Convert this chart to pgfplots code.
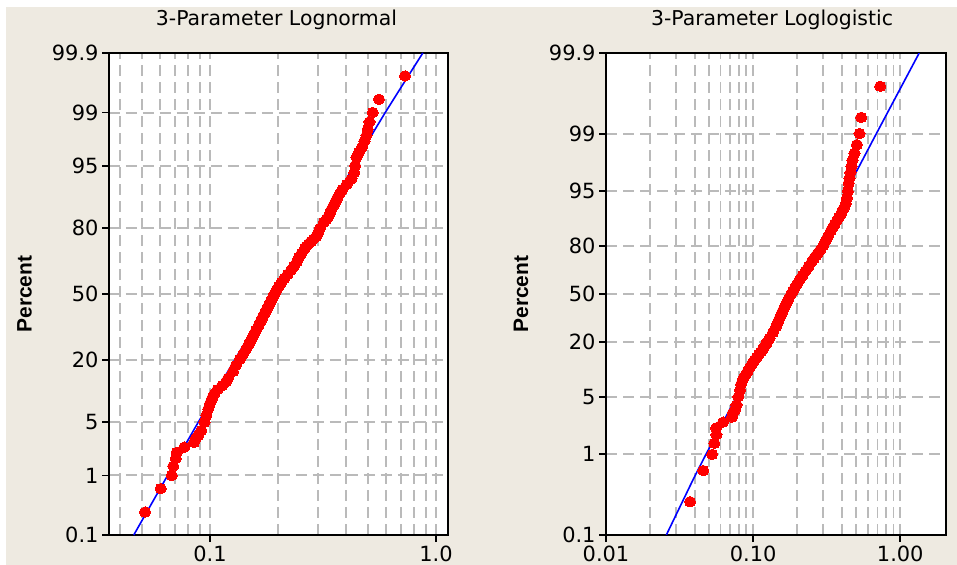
\documentclass[border=0pt]{standalone}
\usepackage{pgfplots}
\usepackage{pgfplotstable}
\pgfplotsset{compat=1.18}
\usepackage{fontspec}
\setmainfont{DejaVu Sans}
\newfontfamily\lblfont{Liberation Sans}
\definecolor{panelbg}{RGB}{238,234,225}
\definecolor{gridgray}{RGB}{186,186,186}

% normal quantile (percent -> z), Abramowitz & Stegun 26.2.23
\pgfmathdeclarefunction{probit}{1}{%
  \begingroup
    \pgfmathparse{min(#1,100-#1)/100}\let\pq\pgfmathresult
    \pgfmathparse{sqrt(-2*ln(\pq))}\let\pt\pgfmathresult
    \pgfmathparse{(2*(#1>=50)-1)*(\pt-(2.515517+0.802853*\pt+0.010328*\pt*\pt)/(1+1.432788*\pt+0.189269*\pt*\pt+0.001308*\pt*\pt*\pt))}%
    \pgfmathsmuggle\pgfmathresult
  \endgroup}
% logistic quantile (percent -> logit)
\pgfmathdeclarefunction{logitp}{1}{%
  \pgfmathparse{ln((#1)/(100-(#1)))}}

% 3-parameter lognormal: data points (x, percent)
\pgfplotstableread{
x p
0.0516 0.259
0.0605 0.629
0.0677 0.998
0.0688 1.368
0.0705 1.738
0.0712 2.108
0.0770 2.478
0.0850 2.848
0.0867 3.218
0.0887 3.5
0.0915 4
0.0945 5
0.0963 6
0.0982 7
0.1000 8
0.1021 9
0.1045 10
0.1079 11
0.1133 12
0.1177 13
0.1203 14
0.1265 16
0.1303 18
0.1354 20
0.1401 22
0.1446 24
0.1487 26
0.1526 28
0.1561 30
0.1597 32
0.1637 34
0.1672 36
0.1706 38
0.1743 40
0.1779 42
0.1816 44
0.1853 46
0.1891 48
0.1928 50
0.1968 52
0.2017 54
0.2073 56
0.2133 58
0.2206 60
0.2284 62
0.2352 64
0.2424 66
0.2471 68
0.2544 70
0.2629 72
0.2667 73
0.2731 74
0.2802 75
0.2876 76
0.2953 77
0.2993 78
0.3029 79
0.3067 80
0.3186 82
0.3271 83
0.3345 84
0.3396 85
0.3445 86
0.3512 87
0.3581 88
0.3654 89
0.3745 90
0.3850 91
0.4027 92
0.4224 93
0.4346 94
0.4385 95
0.4448 96
0.4553 96.5
0.4705 97
0.4822 97.5
0.4926 97.892
0.4986 98.262
0.5079 98.632
0.5247 99.002
0.5594 99.371
0.7293 99.741
}\lnpts

% 3-parameter lognormal: fitted line
\pgfplotstableread{
x p
0.04598 0.1
0.0580 0.5
0.0649 1
0.0887 5
0.1049 10
0.1288 20
0.1922 50
0.2370 65
0.2960 80
0.3660 90
0.4350 95
0.5000 97.5
0.5962 99
0.6753 99.5
0.7858 99.8
0.8744 99.9
}\lnfit

% 3-parameter loglogistic: data points (x, percent)
\pgfplotstableread{
x p
0.0373 0.259
0.0459 0.629
0.0526 0.998
0.0545 1.368
0.0563 1.738
0.0560 2.108
0.0625 2.478
0.0717 2.848
0.0731 3.218
0.0753 3.5
0.0771 4
0.0794 5
0.0815 6
0.0829 7
0.0854 8
0.0888 9
0.0922 10
0.0954 11
0.0986 12
0.1020 13
0.1056 14
0.1092 15
0.1128 16
0.1162 17
0.1190 18
0.1216 19
0.1243 20
0.1293 22
0.1366 25
0.1429 28
0.1477 31
0.1526 34
0.1573 37
0.1625 40
0.1677 43
0.1733 46
0.1814 50
0.1862 52
0.1912 54
0.1989 57
0.2072 60
0.2168 63
0.2273 66
0.2389 69
0.2520 72
0.2596 73.5
0.2679 75
0.2768 76.5
0.2865 78
0.3003 80
0.3108 82
0.3237 84
0.3382 86
0.3474 87
0.3578 88
0.3698 89
0.3828 90
0.3975 91
0.4114 92
0.4259 93
0.4339 94
0.4408 95
0.4464 96
0.4512 96.5
0.4583 97
0.4663 97.5
0.4737 97.892
0.4888 98.262
0.5075 98.632
0.5286 99.002
0.5429 99.371
0.7311 99.741
}\llpts

% 3-parameter loglogistic: fitted line
\pgfplotstableread{
x p
0.02570 0.1
0.03936 0.5
0.0478 1
0.0772 5
0.1213 20
0.1814 50
0.2200 65
0.2880 80
0.3720 90
0.4360 95
0.4940 96.9
0.6878 99
1.345 99.9
}\llfit

\begin{document}
\begin{tikzpicture}
\path[use as bounding box] (0,0) rectangle (957bp,565bp);
\fill[white] (0,0) rectangle (957bp,565bp);
\fill[panelbg] (6bp,0) rectangle (957bp,558bp);

\begin{axis}[
  xmode=log,
  scale only axis,
  at={(109bp,30bp)}, anchor=south west,
  width=339bp, height=482bp,
  axis background/.style={fill=white},
  axis line style={line width=1.8bp, black},
  every tick/.style={line width=1.8bp, black},
  major tick length=7bp,
  minor tick length=0pt,
  tick align=outside,
  tick pos=left,
  xmajorgrids, xminorgrids, ymajorgrids,
  major grid style={gridgray, line width=1.9bp, dash pattern=on 11bp off 6bp},
  minor grid style={gridgray, line width=1.9bp, dash pattern=on 11bp off 6bp},
  ticklabel style={font=\fontsize{21}{25}\selectfont},
  title style={font=\fontsize{20.5}{24}\selectfont, anchor=base, yshift=22bp, xshift=-2bp},
  ylabel={Percent},
  ylabel style={font=\lblfont\bfseries\fontsize{21}{25}\selectfont, anchor=center, at={(axis description cs:-0.249,0.5)}},
  xmin=0.03573, xmax=1.130,
  ymin=-3.0902, ymax=3.0902,
  xtick={0.1,1}, xticklabels={0.1,1.0},
  minor xtick={0.04,0.05,0.06,0.07,0.08,0.09,0.2,0.3,0.4,0.5,0.6,0.7,0.8,0.9},
  ytick={-3.0902,-2.3263,-1.6449,-0.8416,0,0.8416,1.6449,2.3263,3.0902},
  yticklabels={0.1,1,5,20,50,80,95,99,99.9},
  title={3-Parameter Lognormal},
]
\addplot[blue, line width=1.6bp, no marks] table[x=x, y expr={probit(\thisrow{p})}] {\lnfit};
\addplot[only marks, mark=*, mark size=5.2pt, mark options={draw=red, fill=red, line width=0pt, xscale=1.08}] table[x=x, y expr={probit(\thisrow{p})}] {\lnpts};
\end{axis}

\begin{axis}[
  xmode=log,
  scale only axis,
  at={(606bp,30bp)}, anchor=south west,
  width=340bp, height=482bp,
  axis background/.style={fill=white},
  axis line style={line width=1.8bp, black},
  every tick/.style={line width=1.8bp, black},
  major tick length=7bp,
  minor tick length=0pt,
  tick align=outside,
  tick pos=left,
  xmajorgrids, xminorgrids, ymajorgrids,
  major grid style={gridgray, line width=1.9bp, dash pattern=on 11bp off 6bp},
  minor grid style={gridgray, line width=1.9bp, dash pattern=on 11bp off 6bp},
  ticklabel style={font=\fontsize{21}{25}\selectfont},
  title style={font=\fontsize{20.5}{24}\selectfont, anchor=base, yshift=22bp, xshift=-4bp},
  ylabel={Percent},
  ylabel style={font=\lblfont\bfseries\fontsize{21}{25}\selectfont, anchor=center, at={(axis description cs:-0.25,0.5)}},
  xmin=0.01, xmax=2.046,
  ymin=-6.9068, ymax=6.9068,
  xtick={0.01,0.1,1}, xticklabels={0.01,0.10,1.00},
  minor xtick={0.02,0.03,0.04,0.05,0.06,0.07,0.08,0.09,0.2,0.3,0.4,0.5,0.6,0.7,0.8,0.9},
  ytick={-6.9068,-4.5951,-2.9444,-1.3863,0,1.3863,2.9444,4.5951,6.9068},
  yticklabels={0.1,1,5,20,50,80,95,99,99.9},
  title={3-Parameter Loglogistic},
]
\addplot[blue, line width=1.6bp, no marks] table[x=x, y expr={logitp(\thisrow{p})}] {\llfit};
\addplot[only marks, mark=*, mark size=5.2pt, mark options={draw=red, fill=red, line width=0pt, xscale=1.08}] table[x=x, y expr={logitp(\thisrow{p})}] {\llpts};
\end{axis}
\end{tikzpicture}
\end{document}
